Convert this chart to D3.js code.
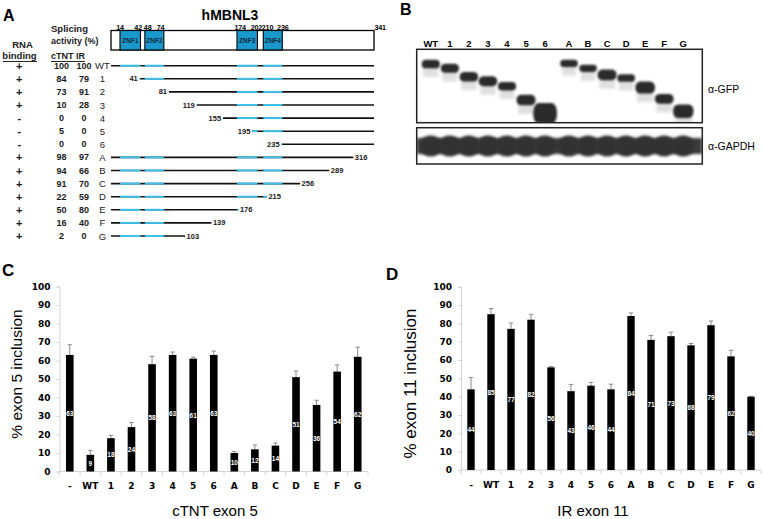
<!DOCTYPE html>
<html><head><meta charset="utf-8">
<script src="https://cdn.jsdelivr.net/npm/d3@7"></script>
<style>body{margin:0;background:#fff}svg{display:block}</style>
</head><body><svg id="chart" width="763" height="519"></svg>
<script>
// ---------------- data ----------------
const proteinLength = 341;
const znfNames  = ["ZNF1","ZNF2","ZNF3","ZNF4"];
const znfStarts = [14, 48, 174, 210];
const znfEnds   = [42, 74, 202, 236];
const constructs     = ["WT","1","2","3","4","5","6","A","B","C","D","E","F","G"];
const constructStart = [1, 41, 81, 119, 155, 195, 235, 1, 1, 1, 1, 1, 1, 1];
const constructEnd   = [341, 341, 341, 341, 341, 341, 341, 316, 289, 256, 215, 176, 139, 103];
const rnaBinding     = ["+","+","+","+","-","-","-","+","+","+","+","+","+","+"];
const activityCTNT   = [100, 84, 73, 10, 0, 5, 0, 98, 94, 91, 22, 50, 16, 2];
const activityIR     = [100, 79, 91, 28, 0, 0, 0, 97, 66, 70, 59, 80, 40, 0];

const blotLanes     = ["WT","1","2","3","4","5","6","A","B","C","D","E","F","G"];
const gfpBandKDa    = [66.0, 62.9, 57.2, 54.4, 51.5, 44.1, 38.0, 66.5, 62.9, 58.4, 56.4, 50.7, 44.7, 38.9];
const gfpBandAmount = [1.0, 1.05, 1.1, 1.15, 1.0, 1.25, 2.4, 0.85, 0.85, 1.25, 0.9, 1.4, 1.15, 1.6];
const blotAntibodies = ["α-GFP", "α-GAPDH"];

const barCategories = ["-","WT","1","2","3","4","5","6","A","B","C","D","E","F","G"];
const ctntValues = [63, 9, 18, 24, 58, 63, 61, 63, 10, 12, 14, 51, 36, 54, 62];
const ctntErrors = [5.5, 2.3, 1.6, 2.5, 4.3, 1.6, 0.8, 2.1, 0.8, 2.3, 1.4, 3.3, 2.5, 3.6, 5.2];
const irValues   = [44, 85, 77, 82, 56, 43, 46, 44, 84, 71, 73, 68, 79, 62, 40];
const irErrors   = [6.4, 3.1, 3.2, 3.0, 0.5, 3.7, 1.8, 2.8, 1.7, 2.4, 2.2, 1.0, 2.3, 3.3, 0.2];
const yTicks = [0, 10, 20, 30, 40, 50, 60, 70, 80, 90, 100];

// ---------------- drawing ----------------
const svg = d3.select("#chart");
svg.append("rect").attr("width", 763).attr("height", 519).attr("fill", "#fff");
const ARIAL = "'Liberation Sans', Arial, sans-serif";
const VERD = "'DejaVu Sans', Verdana, sans-serif";

const defs = svg.append("defs");
defs.append("filter").attr("id", "blurBand").attr("x", "-50%").attr("y", "-50%").attr("width", "200%").attr("height", "200%")
  .append("feGaussianBlur").attr("stdDeviation", 0.9);
defs.append("filter").attr("id", "blurSoft").attr("x", "-50%").attr("y", "-50%").attr("width", "200%").attr("height", "200%")
  .append("feGaussianBlur").attr("stdDeviation", 1.6);

function panelLabel(t, x, y, size) {
  svg.append("text").attr("x", x).attr("y", y).text(t)
    .attr("font-family", ARIAL).attr("font-weight", "bold").attr("font-size", size).attr("fill", "#000");
}
panelLabel("A", 3, 20.5, 16);
panelLabel("B", 400, 14.5, 16);
panelLabel("C", 2, 276, 17);
panelLabel("D", 386, 280, 17);

// ===== Panel A =====
const gA = svg.append("g");
const xRes = d3.scaleLinear().domain([1, 14, 236, 316, proteinLength]).range([111, 120, 282.3, 353.3, 374]);
const yRow = d3.scalePoint().domain(constructs).range([65.7, 236]);

gA.append("text").attr("x", 230).attr("y", 20).attr("text-anchor", "middle")
  .attr("font-family", ARIAL).attr("font-weight", "bold").attr("font-size", 14).text("hMBNL3");

const boxTop = 30.5, boxBot = 50;
gA.append("rect").attr("x", xRes(1)).attr("y", boxTop).attr("width", xRes(proteinLength) - xRes(1)).attr("height", boxBot - boxTop)
  .attr("fill", "#fff").attr("stroke", "#000").attr("stroke-width", 1.3);
znfNames.forEach((n, i) => {
  gA.append("rect").attr("x", xRes(znfStarts[i])).attr("y", boxTop).attr("width", xRes(znfEnds[i]) - xRes(znfStarts[i]))
    .attr("height", boxBot - boxTop).attr("fill", "#1b98cb").attr("stroke", "#000").attr("stroke-width", 1.1);
  gA.append("text").attr("x", (xRes(znfStarts[i]) + xRes(znfEnds[i])) / 2).attr("y", 40.5)
    .attr("text-anchor", "middle").attr("dominant-baseline", "central")
    .attr("font-family", ARIAL).attr("font-weight", "bold").attr("font-size", 6.5).attr("fill", "#0b2a44").text(n);
});
const boundaryAnchor = {14: ["middle", 0], 42: ["end", 1.5], 48: ["start", -1], 74: ["end", 0.5], 174: ["start", -2.5],
  202: ["middle", -1], 210: ["start", -1.5], 236: ["middle", 0.5], 341: ["start", 0.5]};
[...znfStarts, ...znfEnds, proteinLength].sort((a, b) => a - b).forEach(r => {
  const an = boundaryAnchor[r];
  gA.append("text").attr("x", xRes(r) + an[1]).attr("y", 29.5).attr("text-anchor", an[0])
    .attr("font-family", ARIAL).attr("font-weight", "bold").attr("font-size", 7.2).attr("letter-spacing", -0.2).text(r);
});

const hdr = (t, x, y, anchor, size) => gA.append("text").attr("x", x).attr("y", y).attr("text-anchor", anchor || "start")
  .attr("font-family", ARIAL).attr("font-weight", "bold").attr("font-size", size || 9).attr("fill", "#1a1a1a").text(t);
hdr("Splicing", 51, 32.3, "start", 9.5);
hdr("activity (%)", 51, 43.5, "start", 9);
hdr("RNA", 22.5, 48.3, "middle", 9.5);
hdr("binding", 19.5, 59, "middle", 9.5);
hdr("cTNT", 51, 58.5);
hdr("IR", 76, 58.5);
gA.append("line").attr("x1", 3).attr("x2", 37).attr("y1", 61.5).attr("y2", 61.5).attr("stroke", "#111").attr("stroke-width", 0.9);
gA.append("line").attr("x1", 51).attr("x2", 85).attr("y1", 61.5).attr("y2", 61.5).attr("stroke", "#111").attr("stroke-width", 0.9);

constructs.forEach((c, i) => {
  const y = yRow(c);
  const t = (txt, x, anchor, size, bold) => gA.append("text").attr("x", x).attr("y", y).attr("text-anchor", anchor)
    .attr("dominant-baseline", "central").attr("font-family", ARIAL).attr("font-size", size)
    .attr("font-weight", bold ? "bold" : "normal").attr("fill", "#1a1a1a").text(txt);
  t(rnaBinding[i], 19.3, "middle", 11, true);
  t(activityCTNT[i], 61.5, "middle", 9, true);
  t(activityIR[i], 84, "middle", 9, true);
  t(c, 102.5, "middle", 9.5, false);
  const s = constructStart[i], e = constructEnd[i];
  gA.append("line").attr("x1", xRes(s)).attr("x2", xRes(e)).attr("y1", y).attr("y2", y)
    .attr("stroke", "#111").attr("stroke-width", 1.6);
  znfStarts.forEach((zs, k) => {
    const a = Math.max(s, zs), b = Math.min(e, znfEnds[k]);
    if (b > a) gA.append("line").attr("x1", xRes(a)).attr("x2", xRes(b)).attr("y1", y).attr("y2", y)
      .attr("stroke", "#3fc1ec").attr("stroke-width", 2);
  });
  if (s > 1) t(s, xRes(s) - 2, "end", 7.5, true);
  if (e < proteinLength) t(e, xRes(e) + 1.5, "start", 7.5, true);
});

// ===== Panel B =====
const gB = svg.append("g");
const blotX0 = 416.7, blotX1 = 702.3;
const gfpTop = 49.3, gfpBot = 122.7, gapTop = 127.7, gapBot = 164;
const laneGap = 4.85;
const xLaneP = d3.scalePoint().domain(blotLanes).range([430.8, 678.45]);
const xLane = (l, i) => xLaneP(l) + (i >= 7 ? laneGap : 0);
const yKDa = d3.scaleLog().domain([66, 38]).range([64, 113.3]);

defs.append("clipPath").attr("id", "clipGFP").append("rect").attr("x", blotX0).attr("y", gfpTop).attr("width", blotX1 - blotX0).attr("height", gfpBot - gfpTop);
defs.append("clipPath").attr("id", "clipGAP").append("rect").attr("x", blotX0).attr("y", gapTop).attr("width", blotX1 - blotX0).attr("height", gapBot - gapTop);

const gfpG = gB.append("g").attr("clip-path", "url(#clipGFP)");
blotLanes.forEach((l, i) => {
  const cx = xLane(l, i), cy = yKDa(gfpBandKDa[i]), amt = gfpBandAmount[i];
  const h = 8.5 * amt, w = Math.min(24, 18 + 4 * (amt - 1));
  gfpG.append("rect").attr("x", cx - w / 2 + 1.5).attr("y", cy).attr("width", w - 3).attr("height", 9 + 4 * amt)
    .attr("fill", "#999").attr("opacity", 0.3).attr("filter", "url(#blurSoft)");
  gfpG.append("rect").attr("x", cx - w / 2).attr("y", cy - h / 2).attr("width", w).attr("height", h)
    .attr("rx", Math.min(5, h / 2)).attr("ry", h / 2.2).attr("fill", "#2b2b2b").attr("filter", "url(#blurBand)");
});
const gapG = gB.append("g").attr("clip-path", "url(#clipGAP)");
gapG.append("rect").attr("x", blotX0).attr("y", 138).attr("width", blotX1 - blotX0).attr("height", 16)
  .attr("fill", "#3a3a3a").attr("filter", "url(#blurSoft)");
blotLanes.forEach((l, i) => {
  const cx = xLane(l, i);
  gapG.append("ellipse").attr("cx", cx).attr("cy", 146).attr("rx", 11).attr("ry", 10.5)
    .attr("fill", "#333").attr("filter", "url(#blurSoft)");
});
[[gfpTop, gfpBot], [gapTop, gapBot]].forEach(([t, b]) => {
  gB.append("rect").attr("x", blotX0).attr("y", t).attr("width", blotX1 - blotX0).attr("height", b - t)
    .attr("fill", "none").attr("stroke", "#222").attr("stroke-width", 1.5);
});
blotLanes.forEach((l, i) => {
  gB.append("text").attr("x", xLane(l, i)).attr("y", 47.3).attr("text-anchor", "middle")
    .attr("font-family", ARIAL).attr("font-weight", "bold").attr("font-size", 9.5).text(l);
});
gB.append("text").attr("x", 708).attr("y", 89).attr("dominant-baseline", "central")
  .attr("font-family", ARIAL).attr("font-size", 10.5).text(blotAntibodies[0]);
gB.append("text").attr("x", 708).attr("y", 146).attr("dominant-baseline", "central")
  .attr("font-family", ARIAL).attr("font-size", 10.5).text(blotAntibodies[1]);

// ===== Panels C & D =====
function barPanel(cfg) {
  const g = svg.append("g");
  const y = d3.scaleLinear().domain([0, 100]).range([cfg.y0, cfg.y100]);
  const x = d3.scaleBand().domain(barCategories).range([cfg.xAxis, cfg.xEnd]).paddingInner(0.63).paddingOuter(0.315);
  const ax = g.append("g").attr("transform", `translate(${cfg.xAxis},0)`)
    .call(d3.axisLeft(y).tickValues(yTicks).tickSize(3).tickPadding(6));
  ax.select(".domain").attr("stroke", "#d4d4d4");
  ax.selectAll(".tick line").attr("stroke", "#d4d4d4");
  ax.selectAll(".tick text").attr("font-family", VERD).attr("font-weight", "bold").attr("font-size", 9).attr("fill", "#000");
  g.append("line").attr("x1", cfg.xAxis).attr("x2", cfg.xEnd).attr("y1", y(0)).attr("y2", y(0)).attr("stroke", "#d4d4d4");
  const step = x.step();
  d3.range(barCategories.length + 1).forEach(k => {
    const xx = cfg.xAxis + k * step;
    g.append("line").attr("x1", xx).attr("x2", xx).attr("y1", y(0)).attr("y2", y(0) + 4).attr("stroke", "#d4d4d4");
  });
  barCategories.forEach((c) => {
    g.append("text").attr("x", x(c) + x.bandwidth() / 2).attr("y", cfg.catY).attr("text-anchor", "middle")
      .attr("dominant-baseline", "central").attr("font-family", VERD).attr("font-weight", "bold").attr("font-size", 9).text(c);
  });
  cfg.values.forEach((v, i) => {
    const cx = x(barCategories[i]) + x.bandwidth() / 2;
    const top = y(v + cfg.errors[i]);
    g.append("line").attr("x1", cx).attr("x2", cx).attr("y1", y(v)).attr("y2", top).attr("stroke", "#8a8a8a").attr("stroke-width", 1);
    g.append("line").attr("x1", cx - 2.2).attr("x2", cx + 2.2).attr("y1", top).attr("y2", top).attr("stroke", "#8a8a8a").attr("stroke-width", 1);
  });
  g.selectAll("rect.bar").data(cfg.values).join("rect").attr("class", "bar")
    .attr("x", (d, i) => x(barCategories[i])).attr("width", x.bandwidth())
    .attr("y", d => y(d)).attr("height", d => y(0) - y(d)).attr("fill", "#000");
  g.selectAll("text.val").data(cfg.values).join("text").attr("class", "val")
    .attr("x", (d, i) => x(barCategories[i]) + x.bandwidth() / 2).attr("y", d => y(d / 2))
    .attr("text-anchor", "middle").attr("dominant-baseline", "central")
    .attr("font-family", ARIAL).attr("font-weight", "bold").attr("font-size", 6.5).attr("fill", "#fff").text(d => d);
  g.append("text").attr("transform", `translate(${cfg.ylabX},${cfg.ylabY}) rotate(-90)`).attr("text-anchor", "middle")
    .attr("dominant-baseline", "central").attr("font-family", ARIAL).attr("font-size", cfg.ylabSize).text(cfg.ylabel);
  g.append("text").attr("x", cfg.titleX).attr("y", 516).attr("text-anchor", "middle")
    .attr("font-family", ARIAL).attr("font-size", 15).text(cfg.title);
}
barPanel({values: ctntValues, errors: ctntErrors, xAxis: 59.5, xEnd: 368, y0: 471.5, y100: 286.5, catY: 485.5,
  ylabel: "% exon 5 inclusion", ylabX: 16, ylabY: 374, ylabSize: 15.5, title: "cTNT exon 5", titleX: 215});
barPanel({values: irValues, errors: irErrors, xAxis: 461, xEnd: 761, y0: 470, y100: 286.7, catY: 485,
  ylabel: "% exon 11 inclusion", ylabX: 410.5, ylabY: 383.5, ylabSize: 17, title: "IR exon 11", titleX: 593});
</script></body></html>
